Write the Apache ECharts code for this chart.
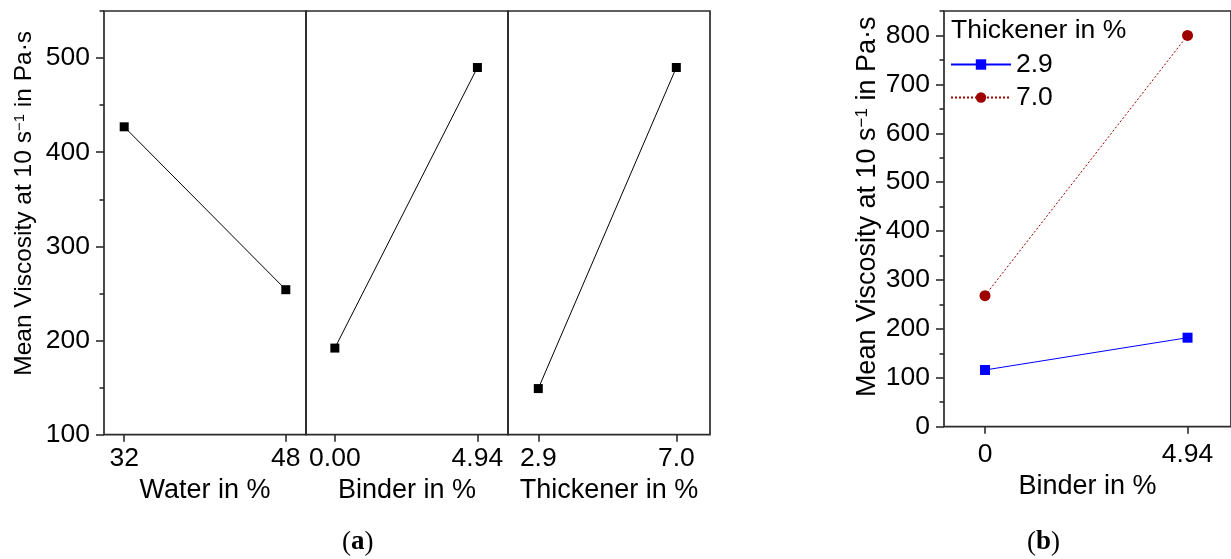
<!DOCTYPE html>
<html>
<head>
<meta charset="utf-8">
<script src="https://cdn.jsdelivr.net/npm/echarts@6/dist/echarts.min.js"></script>
<style>
  html, body { margin: 0; padding: 0; background: #fff; }
  #chart { width: 1231px; height: 559px; }
</style>
</head>
<body>
<div id="chart"></div>
<script>
// ---------- data ----------
const waterLevels = [32, 48];
const waterVisc = [427, 254];
const binderLevels = [0.00, 4.94];
const binderVisc = [192, 490];
const thickLevels = [2.9, 7.0];
const thickVisc = [149, 490];

const binderB = [0, 4.94];
const viscThick29 = [116, 182];
const viscThick70 = [268, 800];

const waterTickLabels = ['32', '48'];
const binderTickLabels = ['0.00', '4.94'];
const thickTickLabels = ['2.9', '7.0'];
const binderBTickLabels = ['0', '4.94'];

const yMajorA = [100, 200, 300, 400, 500];
const yMinorA = [150, 250, 350, 450, 550];
const yMajorB = [0, 100, 200, 300, 400, 500, 600, 700, 800];
const yMinorB = [50, 150, 250, 350, 450, 550, 650, 750, 850];

const legendTitle = 'Thickener in %';
const seriesNamesB = ['2.9', '7.0'];

// ---------- style ----------
const FONT = '"Liberation Sans", Arial, Helvetica, sans-serif';
const SERIF = '"Liberation Serif", "DejaVu Serif", serif';
const AX = '#2b2b2b';
const FS = 26.5;

function zip(a, b) { return a.map((v, i) => [v, b[i]]); }
function labelFrom(values, labels) {
  return v => { const i = values.findIndex(x => Math.abs(x - v) < 1e-9); return i >= 0 ? labels[i] : ''; };
}

const gridBase = { show: true, borderColor: AX, borderWidth: 1.7, backgroundColor: 'transparent' };
const grids = [
  Object.assign({ left: 104, top: 11, width: 202, height: 423.7 }, gridBase),
  Object.assign({ left: 306, top: 11, width: 202, height: 423.7 }, gridBase),
  Object.assign({ left: 508, top: 11, width: 202, height: 423.7 }, gridBase),
  Object.assign({ left: 944, top: 11, width: 297, height: 415.7 }, gridBase)
];

function xAx(gi, min, max, vals, labels, name, gap, margin) {
  return {
    type: 'value', gridIndex: gi, min: min, max: max,
    name: name, nameLocation: 'middle', nameGap: gap,
    nameTextStyle: { fontFamily: FONT, fontSize: 27, color: '#000' },
    axisLine: { show: false, onZero: false },
    axisTick: { show: true, inside: false, length: 7, customValues: vals, lineStyle: { color: AX, width: 1.6 } },
    axisLabel: { show: true, customValues: vals, formatter: labelFrom(vals, labels), margin: margin,
      fontFamily: FONT, fontSize: FS, color: '#000' },
    splitLine: { show: false }
  };
}

const yName = 'Mean Viscosity at 10 s{sup|\u22121} in Pa\u00b7s';

function yMain(gi, min, max, majors, nameFs, gap, padLeft) {
  return {
    type: 'value', gridIndex: gi, min: min, max: max, position: 'left',
    name: yName, nameLocation: 'middle', nameGap: gap, nameRotate: 90,
    nameTextStyle: { fontFamily: FONT, fontSize: nameFs, color: '#000', padding: [0, 0, 0, padLeft],
      rich: { sup: { fontFamily: FONT, fontSize: Math.round(nameFs * 0.62), color: '#000', verticalAlign: 'top', lineHeight: nameFs } } },
    axisLine: { show: false, onZero: false },
    axisTick: { show: true, inside: false, length: 8, customValues: majors, lineStyle: { color: AX, width: 1.6 } },
    axisLabel: { show: true, customValues: majors, margin: 14, fontFamily: FONT, fontSize: FS, color: '#000' },
    splitLine: { show: false }
  };
}
function yMinor(gi, min, max, minors) {
  return {
    type: 'value', gridIndex: gi, min: min, max: max, position: 'left', offset: 0,
    axisLine: { show: false, onZero: false },
    axisTick: { show: true, inside: false, length: 4.5, customValues: minors, lineStyle: { color: AX, width: 1.6 } },
    axisLabel: { show: false },
    splitLine: { show: false }
  };
}
function yHidden(gi, min, max) {
  return { type: 'value', gridIndex: gi, min: min, max: max, axisLine: { show: false, onZero: false }, axisTick: { show: false },
    axisLabel: { show: false }, splitLine: { show: false } };
}

const option = {
  animation: false,
  backgroundColor: '#fff',
  grid: grids,
  title: {
    text: legendTitle, left: 951, top: 17, padding: 0,
    textStyle: { fontFamily: FONT, fontSize: FS, fontWeight: 'normal', color: '#000' }
  },
  legend: {
    data: seriesNamesB, orient: 'vertical', left: 950, top: 51, padding: 0,
    itemWidth: 60, itemHeight: 13, itemGap: 6,
    textStyle: { fontFamily: FONT, fontSize: FS, color: '#000' }
  },
  xAxis: [
    xAx(0, 30, 50, waterLevels, waterTickLabels, 'Water in %', 38, 10),
    xAx(1, -1, 6, binderLevels, binderTickLabels, 'Binder in %', 38, 10),
    xAx(2, 2, 8, thickLevels, thickTickLabels, 'Thickener in %', 38, 10),
    xAx(3, -1, 6, binderB, binderBTickLabels, 'Binder in %', 46, 14)
  ],
  yAxis: [
    yMain(0, 100, 550, yMajorA, 24.5, 67, 39),
    yMinor(0, 100, 550, yMinorA),
    yHidden(1, 100, 550),
    yHidden(2, 100, 550),
    yMain(3, 0, 850, yMajorB, 27, 63, 24),
    yMinor(3, 0, 850, yMinorB)
  ],
  series: [
    { type: 'line', name: 'Water', xAxisIndex: 0, yAxisIndex: 0, data: zip(waterLevels, waterVisc),
      symbol: 'rect', symbolSize: 9, itemStyle: { color: '#000' }, lineStyle: { color: '#000', width: 1 } },
    { type: 'line', name: 'Binder', xAxisIndex: 1, yAxisIndex: 2, data: zip(binderLevels, binderVisc),
      symbol: 'rect', symbolSize: 9, itemStyle: { color: '#000' }, lineStyle: { color: '#000', width: 1 } },
    { type: 'line', name: 'Thickener', xAxisIndex: 2, yAxisIndex: 3, data: zip(thickLevels, thickVisc),
      symbol: 'rect', symbolSize: 9, itemStyle: { color: '#000' }, lineStyle: { color: '#000', width: 1 } },
    { type: 'line', name: seriesNamesB[0], xAxisIndex: 3, yAxisIndex: 4, data: zip(binderB, viscThick29),
      symbol: 'rect', symbolSize: 10, itemStyle: { color: '#0000ff' }, lineStyle: { color: '#0000ff', width: 1 } },
    { type: 'line', name: seriesNamesB[1], xAxisIndex: 3, yAxisIndex: 4, data: zip(binderB, viscThick70),
      symbol: 'circle', symbolSize: 11, itemStyle: { color: '#9e0000' }, lineStyle: { color: '#9e0000', width: 1, type: [2, 2] } }
  ],
  graphic: [
    { type: 'text', left: 342, top: 529, style: { text: '({b|a})', fontFamily: SERIF, fontSize: 27, fill: '#000',
      rich: { b: { fontFamily: SERIF, fontWeight: 'bold', fontSize: 27, fill: '#000' } } } },
    { type: 'text', left: 1027, top: 529, style: { text: '({b|b})', fontFamily: SERIF, fontSize: 27, fill: '#000',
      rich: { b: { fontFamily: SERIF, fontWeight: 'bold', fontSize: 27, fill: '#000' } } } }
  ]
};

const chart = echarts.init(document.getElementById('chart'), null, { renderer: 'canvas' });
chart.setOption(option);
</script>
</body>
</html>
